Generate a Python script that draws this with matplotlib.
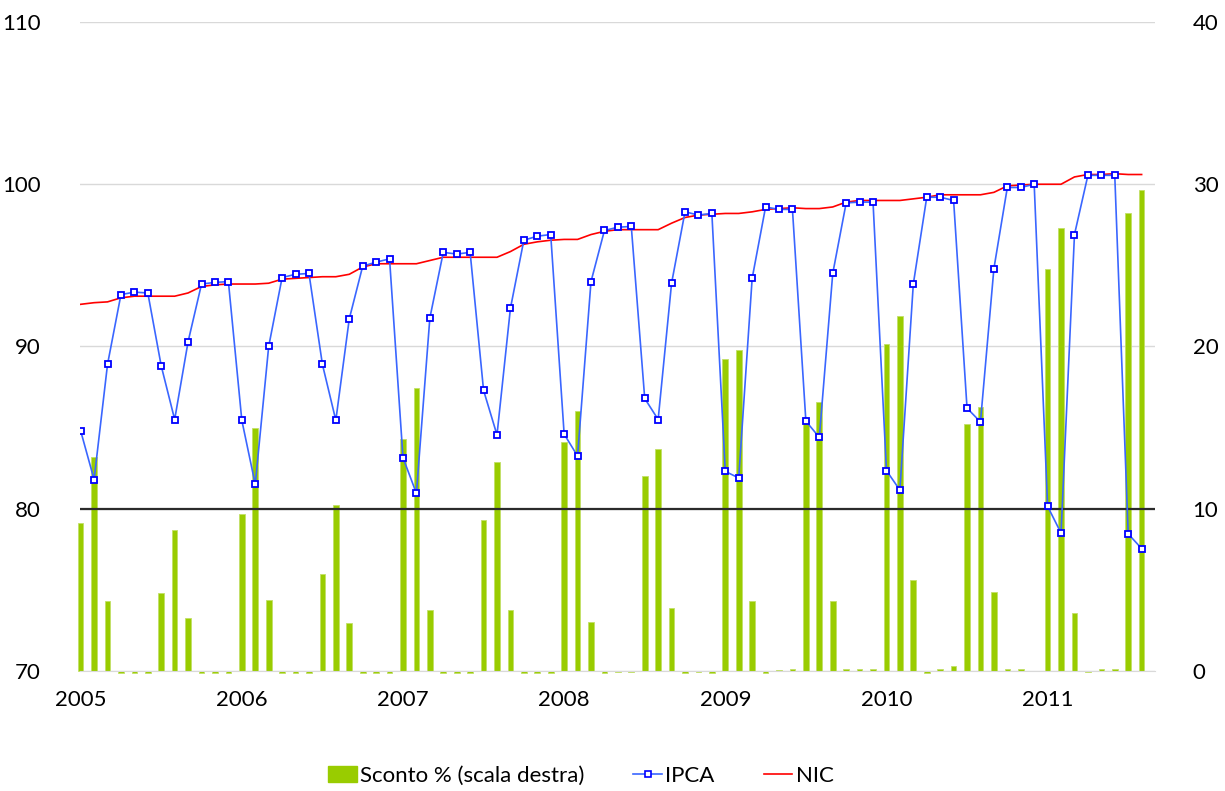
import numpy as np
import pandas as pd
import matplotlib
matplotlib.use('Agg')
import matplotlib.pyplot as plt
from matplotlib.patches import Patch
from matplotlib.lines import Line2D

# Monthly data, Jan 2005 - Aug 2011.
months = pd.date_range('2005-01-01', periods=80, freq='MS')

ipca = [84.8, 81.8, 88.9, 93.2, 93.35, 93.3, 88.8, 85.5, 90.3, 93.85, 93.95, 94.0,
        85.45, 81.5, 90.0, 94.25, 94.45, 94.5, 88.9, 85.45, 91.7, 94.95, 95.2, 95.4,
        83.15, 80.95, 91.75, 95.8, 95.7, 95.8, 87.3, 84.55, 92.35, 96.55, 96.8, 96.9,
        84.6, 83.25, 94.0, 97.15, 97.35, 97.4, 86.8, 85.5, 93.9, 98.3, 98.1, 98.2,
        82.3, 81.9, 94.2, 98.6, 98.45, 98.45, 85.4, 84.4, 94.5, 98.85, 98.9, 98.9,
        82.35, 81.15, 93.85, 99.2, 99.2, 99.0, 86.2, 85.35, 94.8, 99.8, 99.8, 100.0,
        80.15, 78.5, 96.9, 100.55, 100.55, 100.55, 78.45, 77.55]

nic = [92.6, 92.7, 92.75, 93.0, 93.1, 93.1, 93.1, 93.1, 93.3, 93.7, 93.8, 93.85,
       93.85, 93.85, 93.9, 94.15, 94.2, 94.25, 94.3, 94.3, 94.45, 94.9, 95.1, 95.1,
       95.1, 95.1, 95.3, 95.5, 95.5, 95.5, 95.5, 95.5, 95.85, 96.3, 96.45, 96.55,
       96.6, 96.6, 96.9, 97.1, 97.2, 97.2, 97.2, 97.2, 97.6, 97.95, 98.1, 98.15,
       98.2, 98.2, 98.3, 98.45, 98.5, 98.55, 98.5, 98.5, 98.6, 98.9, 99.0, 99.0,
       99.0, 99.0, 99.1, 99.2, 99.35, 99.35, 99.35, 99.35, 99.5, 99.9, 99.95, 100.0,
       100.0, 100.0, 100.45, 100.6, 100.6, 100.65, 100.6, 100.6]

sconto = [9.1, 13.2, 4.3, -0.15, -0.15, -0.15, 4.8, 8.7, 3.25, -0.15, -0.15, -0.15,
          9.7, 14.95, 4.4, -0.1, -0.1, -0.1, 6.0, 10.25, 2.95, -0.1, -0.1, -0.1,
          14.3, 17.45, 3.75, -0.1, -0.1, -0.1, 9.3, 12.9, 3.75, -0.1, -0.1, -0.1,
          14.1, 16.0, 3.0, -0.1, -0.05, -0.05, 12.0, 13.7, 3.9, -0.15, -0.05, -0.1,
          19.2, 19.8, 4.3, -0.1, 0.05, 0.1, 15.5, 16.55, 4.3, 0.1, 0.1, 0.1,
          20.15, 21.9, 5.6, -0.1, 0.1, 0.3, 15.2, 16.25, 4.85, 0.1, 0.1, 0.0,
          24.75, 27.3, 3.55, -0.05, 0.1, 0.1, 28.2, 29.65]

left_ticks = [70, 80, 90, 100, 110]
right_ticks = [0, 10, 20, 30, 40]

plt.rcParams['font.family'] = ['Lato', 'DejaVu Sans']

x = np.arange(len(months))
year_pos = x[months.month == 1]
year_lab = [str(y) for y in months.year[months.month == 1]]

fig = plt.figure(figsize=(12.25, 7.91), dpi=100)
ax2 = fig.add_axes([0.0653, 0.1517, 0.8776, 0.8205])
ax = ax2.twinx()

# Bars on right scale, drawn below the lines.
bar_col = '#99cc00'
bars = ax2.bar(x, sconto, width=0.42, color=bar_col, edgecolor='#c2e066',
               linewidth=0.6, zorder=2)
for b in bars:
    b.set_clip_on(False)
ax2.set_ylim(0, 40)
ax2.set_yticks(right_ticks)
ax2.yaxis.tick_right()
ax2.grid(axis='y', color='#d9d9d9', linewidth=1.0, zorder=0)
ax2.set_axisbelow(True)

# Lines on left scale.
ax.set_zorder(ax2.get_zorder() + 1)
ax.patch.set_visible(False)
ax.axhline(80, color='#2b2b2b', linewidth=1.6, zorder=3)
ax.plot(x, nic, color='#ff0000', linewidth=1.2, zorder=4)
ax.plot(x, ipca, color='#3a66ff', linewidth=1.2, marker='s', markersize=5,
        markerfacecolor='white', markeredgecolor='#0000ff', markeredgewidth=1.3, zorder=5)
ax.set_ylim(70, 110)
ax.set_yticks(left_ticks)
ax.yaxis.tick_left()

ax.set_xlim(-0.05, 80)
ax2.set_xticks(year_pos)
ax2.set_xticklabels(year_lab)

for a in (ax, ax2):
    for s in a.spines.values():
        s.set_visible(False)
    a.tick_params(length=0, labelsize=16)
ax2.spines['bottom'].set_visible(True)
ax2.spines['bottom'].set_color('#d9d9d9')
ax2.tick_params(axis='x', pad=14)
ax2.tick_params(axis='y', pad=27)
ax.tick_params(axis='y', pad=28)

handles = [Patch(facecolor=bar_col, edgecolor=bar_col),
           Line2D([], [], color='#3a66ff', linewidth=1.2, marker='s', markersize=4,
                  markerfacecolor='white', markeredgecolor='#0000ff', markeredgewidth=1.2),
           Line2D([], [], color='#ff0000', linewidth=1.2)]
labels = ['Sconto % (scala destra)', 'IPCA', 'NIC']
fig.legend(handles, labels, loc='center', bbox_to_anchor=(0.474, 0.019), ncol=3,
           frameon=False, fontsize=16, handlelength=1.3, handleheight=0.75,
           handletextpad=0.15, columnspacing=2.2)

fig.savefig('out.png', dpi=100)
